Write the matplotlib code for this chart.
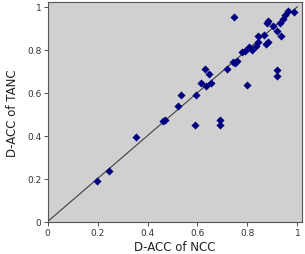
import matplotlib
matplotlib.use('Agg')
import matplotlib.pyplot as plt

# D-ACC values (x = NCC, y = TANC)
ncc = [0.747, 0.963, 0.987, 0.950, 0.930, 0.943, 0.903, 0.883, 0.877,
       0.919, 0.933, 0.883, 0.874, 0.866, 0.843, 0.841, 0.834, 0.807,
       0.817, 0.778, 0.789, 0.743, 0.750, 0.759, 0.717, 0.919, 0.919,
       0.797, 0.629, 0.645, 0.614, 0.633, 0.654, 0.534, 0.593, 0.521,
       0.463, 0.471, 0.590, 0.691, 0.691, 0.354, 0.247, 0.197]
tanc = [0.951, 0.981, 0.974, 0.961, 0.924, 0.943, 0.912, 0.935, 0.924,
        0.886, 0.865, 0.834, 0.827, 0.870, 0.865, 0.834, 0.816, 0.811,
        0.800, 0.791, 0.795, 0.744, 0.738, 0.746, 0.710, 0.707, 0.679,
        0.637, 0.710, 0.687, 0.645, 0.633, 0.645, 0.589, 0.591, 0.540,
        0.470, 0.473, 0.451, 0.474, 0.451, 0.393, 0.236, 0.188]
ticks = [0, 0.2, 0.4, 0.6, 0.8, 1]
tick_labels = ['0', '0.2', '0.4', '0.6', '0.8', '1']

fig = plt.figure(figsize=(3.05, 2.55), dpi=100)
ax = fig.add_axes([0.156, 0.127, 0.833, 0.862])
ax.set_facecolor('#d0d0d0')

ax.plot([0, 1], [0, 1], color='#404040', linewidth=0.8, zorder=2)
ax.scatter(ncc, tanc, marker='D', s=17, color='#000080', linewidths=0, zorder=3)

ax.set_xlim(0, 1.017)
ax.set_ylim(0, 1.023)
ax.set_xticks(ticks)
ax.set_xticklabels(tick_labels)
ax.set_yticks(ticks)
ax.set_yticklabels(tick_labels)
ax.tick_params(labelsize=6.5, length=3, width=0.6, pad=1.5, colors='#333333')

for s in ax.spines.values():
    s.set_color('#555555')
    s.set_linewidth(0.8)

ax.set_xlabel('D-ACC of NCC', fontsize=8.5, color='#222222', labelpad=2)
ax.set_ylabel('D-ACC of TANC', fontsize=8.5, color='#222222', labelpad=6)

fig.savefig('out.png', dpi=100)
